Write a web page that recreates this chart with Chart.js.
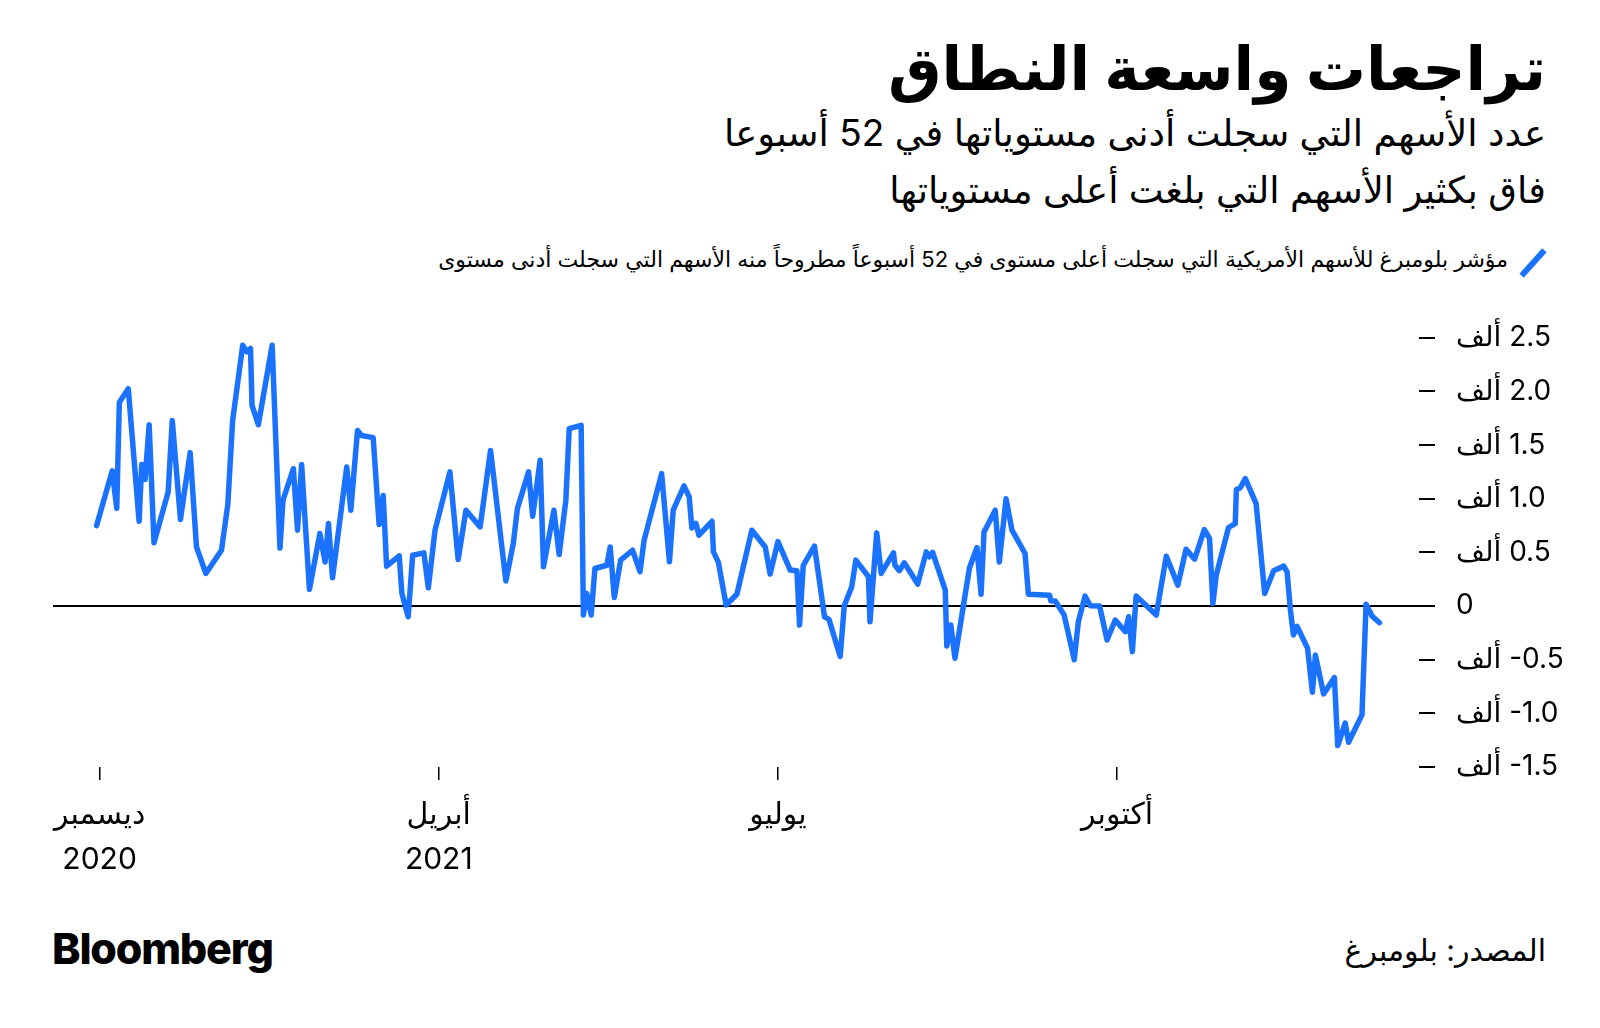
<!DOCTYPE html>
<html lang="ar">
<head>
<meta charset="utf-8">
<script src="https://cdn.jsdelivr.net/npm/chart.js@4/dist/chart.umd.min.js"></script>
<style>
  html, body { margin: 0; padding: 0; background: #fff; }
  #page { position: relative; width: 1600px; height: 1028px; overflow: hidden; font-family: Inter, "DejaVu Sans", sans-serif; color: #000; }
  .rt { position: absolute; right: 54px; direction: rtl; text-align: right; white-space: nowrap; }
  #title { top: 32px; font-size: 60px; font-weight: bold; }
  #sub1 { top: 110px; font-size: 37px; }
  #sub2 { top: 167px; font-size: 37px; }
  #legend { top: 246px; right: 92px; font-size: 22px; }
  #swatch { position: absolute; left: 1530px; top: 246px; width: 6px; height: 34px; background: #1a72ff; transform: rotate(42deg); }
  #source { top: 932px; font-size: 30px; }
  #logo { position: absolute; left: 52px; top: 922px; font-size: 43px; font-weight: 800; letter-spacing: -1.2px; font-family: Inter, sans-serif; }
  #chart { position: absolute; left: 0; top: 300px; direction: rtl; }
</style>
</head>
<body>
<div id="page">
  <div id="title" class="rt">تراجعات واسعة النطاق</div>
  <div id="sub1" class="rt">عدد الأسهم التي سجلت أدنى مستوياتها في 52 أسبوعا</div>
  <div id="sub2" class="rt">فاق بكثير الأسهم التي بلغت أعلى مستوياتها</div>
  <div id="swatch"></div>
  <div id="legend" class="rt">مؤشر بلومبرغ للأسهم الأمريكية التي سجلت أعلى مستوى في 52 أسبوعاً مطروحاً منه الأسهم التي سجلت أدنى مستوى</div>
  <canvas id="chart" width="1600" height="600"></canvas>
  <div id="logo">Bloomberg</div>
  <div id="source" class="rt">المصدر: بلومبرغ</div>
</div>
<script>
// days counted from the end of December 2020
var days = [-0.8, 3.4, 4.6, 5.3, 7.7, 10.6, 11.3, 12.2, 13.3, 14.6, 18.4, 19.5, 21.7, 24.3, 26.0, 28.5,
  32.7, 34.4, 35.7, 38.4, 39.5, 40.5, 40.9, 42.6, 46.3, 48.4, 49.2, 52.0, 53.1, 54.2, 56.3, 59.1,
  60.5, 61.4, 62.5, 66.3, 67.4, 69.2, 70.3, 73.4, 75.0, 76.1, 77.0, 80.4, 81.1, 82.8, 84.0, 87.0,
  88.2, 90.0, 94.0, 96.2, 98.3, 102.1, 104.9, 109.0, 111.0, 112.1, 115.1, 116.2, 118.2, 119.1, 121.9, 123.3,
  125.1, 126.0, 129.2, 129.8, 130.7, 131.9, 132.9, 136.1, 137.0, 138.1, 139.8, 143.0, 145.0, 146.1, 150.8, 152.9,
  153.9, 156.8, 158.2, 158.9, 160.0, 160.8, 164.3, 164.7, 166.0, 168.1, 171.0, 175.0, 178.6, 179.9, 182.0, 185.3,
  187.1, 187.8, 188.8, 191.8, 194.5, 195.7, 198.7, 199.8, 201.8, 202.9, 206.3, 206.7, 208.5, 209.7, 213.0, 213.4,
  214.6, 215.9, 219.5, 221.8, 222.6, 223.5, 226.9, 227.3, 228.4, 229.5, 233.4, 235.4, 236.5, 237.3, 240.3, 241.4,
  243.2, 244.8, 248.3, 249.2, 254.9, 255.2, 256.4, 258.8, 261.5, 262.6, 264.4, 265.8, 268.3, 270.3, 272.5, 275.2,
  276.1, 277.1, 278.1, 283.5, 286.2, 289.3, 291.5, 293.8, 296.4, 297.8, 298.7, 299.6, 302.9, 304.7, 305.0, 306.0,
  307.4, 310.3, 312.6, 315.0, 317.7, 318.6, 319.5, 320.3, 321.3, 324.1, 325.4, 326.2, 328.4, 331.3, 332.2, 334.2,
  335.1, 338.7, 339.8, 341.4, 343.4];

var netHighs = [750, 1260, 910, 1900, 2025, 790, 1320, 1180, 1690, 590, 1063, 1730, 807, 1430, 550, 304,
  520, 946, 1730, 2430, 2370, 2400, 1870, 1690, 2430, 540, 986, 1280, 707, 1320, 155, 676,
  410, 769, 263, 1296, 893, 1637, 1590, 1570, 760, 1030, 372, 468, 118, -100, 474, 496,
  170, 707, 1250, 434, 893, 738, 1450, 233, 583, 909, 1250, 837, 1358, 366, 893, 480,
  986, 1653, 1684, -84, 118, -84, 350, 380, 550, 80, 428, 520, 320, 614, 1234, 412,
  893, 1120, 1017, 728, 770, 660, 790, 505, 410, 10, 110, 707, 550, 298, 600, 335,
  330, -177, 380, 558, -100, -124, -470, 3, 180, 428, 273, -146, 682, 304, 496, 380,
  330, 403, 205, 505, 459, 500, 149, -372, -177, -487, 357, 546, 110, 691, 893, 410,
  1000, 707, 490, 110, 100, 50, 47, -84, -500, -146, 93, 3, 0, -316, -130, -239,
  -100, -425, 93, -84, 465, 195, 530, 437, 713, 630, 25, 288, 732, 769, 1086, 1100,
  1188, 955, 118, 330, 372, 319, -37, -270, -190, -393, -803, -456, -819, -667, -1300, -1091,
  -1270, -1014, 16, -93, -155];

var tickDays = [0, 91, 182, 273];
var tickMonths = ['ديسمبر', 'أبريل', 'يوليو', 'أكتوبر'];
var tickYears = ['2020', '2021', '', ''];
var yTicks = [-1500, -1000, -500, 0, 500, 1000, 1500, 2000, 2500];

var points = days.map(function (d, i) { return { x: d, y: netHighs[i] }; });

var fontFamily = 'Inter, "DejaVu Sans", sans-serif';

const chart = new Chart(document.getElementById('chart'), {
  type: 'line',
  data: {
    datasets: [{
      data: points,
      borderColor: '#1a72ff',
      borderWidth: 5.5,
      borderJoinStyle: 'round',
      borderCapStyle: 'round',
      pointRadius: 0,
      tension: 0,
      fill: false
    }]
  },
  options: {
    responsive: false,
    animation: false,
    layout: { padding: { left: 53, top: 37, right: 0, bottom: 0 } },
    plugins: { legend: { display: false }, tooltip: { enabled: false } },
    scales: {
      x: {
        type: 'linear',
        position: 'bottom',
        min: -12.5,
        max: 354,
        border: { display: false },
        grid: { drawOnChartArea: false, drawTicks: true, tickLength: 13, color: '#000', lineWidth: 1.5 },
        afterBuildTicks: function (scale) {
          scale.ticks = tickDays.map(function (v) { return { value: v }; });
        },
        afterFit: function (scale) { scale.height = 133; },
        ticks: {
          autoSkip: false,
          maxRotation: 0,
          padding: 13,
          color: '#000',
          font: { family: fontFamily, size: 30, lineHeight: 1.48 },
          callback: function (value) {
            var i = tickDays.indexOf(value);
            if (i < 0) return '';
            return tickYears[i] ? [tickMonths[i], tickYears[i]] : tickMonths[i];
          }
        }
      },
      y: {
        position: 'right',
        min: -1500,
        max: 2500,
        border: { display: false },
        grid: {
          drawTicks: true,
          tickLength: 16,
          lineWidth: 2,
          color: function (ctx) { return ctx.tick && ctx.tick.value === 0 ? '#000' : 'rgba(0,0,0,0)'; },
          tickColor: '#000'
        },
        afterBuildTicks: function (scale) {
          scale.ticks = yTicks.map(function (v) { return { value: v }; });
        },
        afterFit: function (scale) { scale.width = 181; },
        ticks: {
          padding: 21,
          color: '#000',
          font: { family: fontFamily, size: 28 },
          callback: function (value) {
            if (value === 0) return '0';
            // LRM keeps the minus sign in front of the number inside the RTL label
            return '\u200E' + (value / 1000).toFixed(1) + ' ألف';
          }
        }
      }
    }
  }
});
</script>
</body>
</html>
